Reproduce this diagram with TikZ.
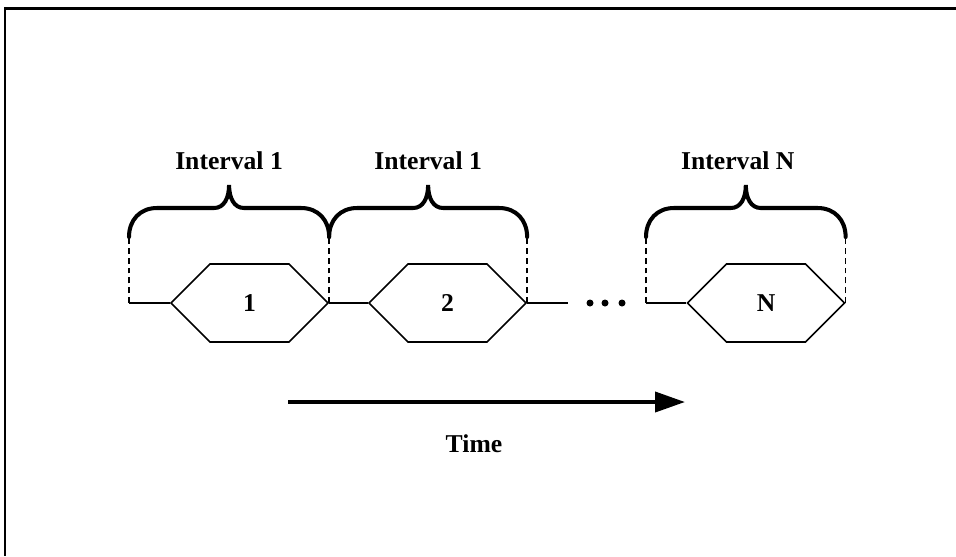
\documentclass[tikz,border=0pt]{standalone}
\usepackage{fontspec}
\setmainfont{Liberation Serif}
\usepackage{tikz}
\usetikzlibrary{arrows.meta, positioning, calc, shapes.symbols}

\newcommand{\lblfont}{\fontsize{7.3}{9}\selectfont\bfseries}

% curly brace over one interval, #1 and #2 are its lower ends
\newcommand{\intervalbrace}[3]{%
  \coordinate (#3) at ($(#1)!0.5!(#2)+(0,0.52)$);
  \draw[brace line] (#1) .. controls ($(#1)+(0,0.17)$) and ($(#1)+(0.11,0.29)$) .. ($(#1)+(0.28,0.29)$)
    -- ($(#3)+(-0.15,-0.23)$) .. controls ($(#3)+(-0.05,-0.23)$) and ($(#3)+(0,-0.13)$) .. (#3)
    .. controls ($(#3)+(0,-0.13)$) and ($(#3)+(0.05,-0.23)$) .. ($(#3)+(0.15,-0.23)$)
    -- ($(#2)+(-0.28,0.29)$) .. controls ($(#2)+(-0.11,0.29)$) and ($(#2)+(0,0.17)$) .. (#2);}

\tikzset{
  hexa/.style={draw, shape=signal, signal to=west and east, signal pointer angle=90,
    minimum width=1.57cm, minimum height=0.78cm, inner sep=0pt, line width=0.45pt, font=\lblfont},
  wire/.style={line width=0.65pt},
  guide/.style={line width=0.4pt, dash pattern=on 1.7pt off 1.1pt},
  brace line/.style={line width=1.15pt, line cap=round},
  lbl/.style={font=\lblfont, inner sep=0pt, anchor=base},
}

\begin{document}
\begin{tikzpicture}
				\useasboundingbox (0,0) rectangle (9.56,5.56);
				% Frame (top and left edges only):
				\draw[line width=0.85pt] (9.56,5.48) -- (0.05,5.48) -- (0.05,0);
				% Sequence of intervals:
				\coordinate (start) at (1.29,2.53);
				\node[hexa] (hex1) at (2.495,2.53) {1};
				\node[hexa] (hex2) at (4.475,2.53) {2};
				\coordinate (gapL) at (5.68,2.53);
				\coordinate (gapR) at (6.46,2.53);
				\node[hexa] (hexN) at (7.66,2.53) {N};
				\draw[wire] (start) -- (hex1.west);
				\draw[wire] (hex1.east) -- (hex2.west);
				\draw[wire] (hex2.east) -- (gapL);
				\draw[wire] (gapR) -- (hexN.west);
				\fill (5.90,2.53) circle (0.035) (6.05,2.53) circle (0.035) (6.22,2.53) circle (0.035);
				% Dashed guides up to the braces:
				\coordinate (b1L) at ($(start)+(0,0.66)$);
				\coordinate (b1R) at ($(hex1.east)+(0,0.66)$);
				\coordinate (b2R) at ($(hex2.east)+(0,0.66)$);
				\coordinate (bNL) at ($(gapR)+(0,0.66)$);
				\coordinate (bNR) at ($(hexN.east)+(0,0.66)$);
				\draw[guide] (start) -- (b1L);
				\draw[guide] (hex1.east) -- (b1R);
				\draw[guide] (hex2.east) -- (b2R);
				\draw[guide] (gapR) -- (bNL);
				\draw[guide] (hexN.east) -- (bNR);
				% Braces and labels:
				\intervalbrace{b1L}{b1R}{tip1}
				\intervalbrace{b1R}{b2R}{tip2}
				\intervalbrace{bNL}{bNR}{tipN}
				\node[lbl] (int1) at ($(tip1)+(0,0.16)$) {Interval 1};
				\node[lbl] (int2) at ($(tip2)+(0,0.16)$) {Interval 1};
				\node[lbl] (intN) at ($(tipN)+(-0.08,0.16)$) {Interval N};
				% Time axis:
				\coordinate (t0) at (2.88,1.54);
				\coordinate (t1) at (6.85,1.54);
				\draw[line width=1.1pt, -{Triangle[length=0.3cm, width=0.2cm]}] (t0) -- (t1);
				\node[lbl] (time) at (4.74,1.04) {Time};
			\end{tikzpicture}
\end{document}
